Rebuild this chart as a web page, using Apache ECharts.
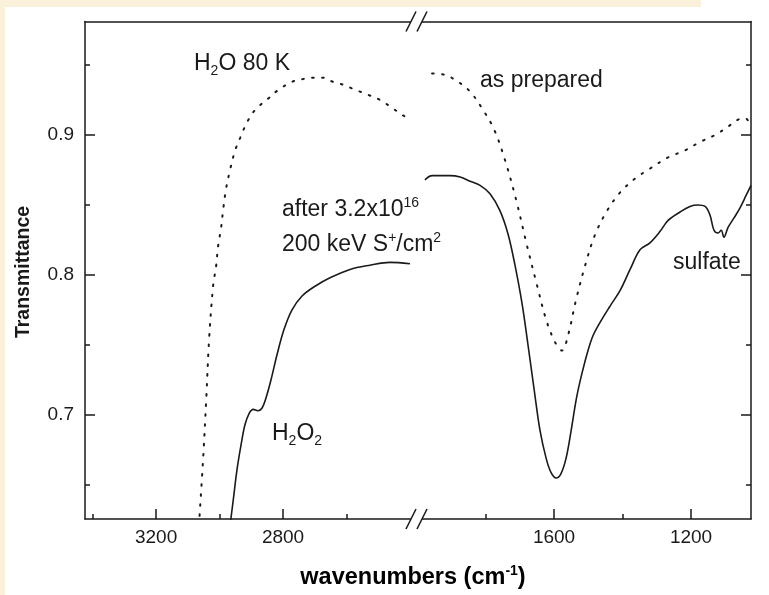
<!DOCTYPE html>
<html>
<head>
<meta charset="utf-8">
<script src="https://cdn.jsdelivr.net/npm/echarts@6/dist/echarts.min.js"></script>
<style>
  html, body { margin: 0; padding: 0; background: #fff; }
  #chart { width: 769px; height: 595px; }
</style>
</head>
<body>
<div id="chart"></div>
<script>
// IR transmittance of H2O ice at 80 K, before and after S+ irradiation.
// The wavenumber axis is broken: a high range (O-H stretch) and a low range.

// "as prepared" spectrum, high-wavenumber window
const preparedHighWn = [3065, 3052, 3042, 3033, 3020, 3011, 3005, 2995, 2989, 2980, 2967, 2951, 2935, 2920, 2901, 2879, 2847, 2816, 2772, 2737, 2706, 2674, 2643, 2611, 2580, 2535, 2494, 2454, 2422, 2400];
const preparedHighT  = [0.621, 0.668, 0.711, 0.754, 0.793, 0.806, 0.820, 0.834, 0.846, 0.861, 0.875, 0.889, 0.898, 0.906, 0.914, 0.920, 0.926, 0.932, 0.938, 0.940, 0.941, 0.941, 0.938, 0.936, 0.933, 0.929, 0.925, 0.919, 0.914, 0.912];

// "as prepared" spectrum, low-wavenumber window
const preparedLowWn = [1956, 1918, 1880, 1845, 1810, 1775, 1743, 1711, 1679, 1650, 1623, 1597, 1577, 1559, 1536, 1509, 1480, 1445, 1407, 1363, 1320, 1267, 1218, 1174, 1130, 1092, 1063, 1042, 1028];
const preparedLowT  = [0.944, 0.943, 0.938, 0.931, 0.919, 0.904, 0.882, 0.854, 0.821, 0.793, 0.768, 0.752, 0.746, 0.757, 0.782, 0.807, 0.829, 0.846, 0.859, 0.869, 0.876, 0.884, 0.889, 0.895, 0.900, 0.906, 0.911, 0.912, 0.908];

// after 3.2x10^16 200 keV S+/cm2, high-wavenumber window
const irradHighWn = [2967, 2957, 2945, 2932, 2920, 2907, 2894, 2879, 2866, 2854, 2838, 2819, 2797, 2772, 2740, 2699, 2652, 2589, 2526, 2463, 2400];
const irradHighT  = [0.621, 0.639, 0.661, 0.679, 0.693, 0.701, 0.704, 0.703, 0.705, 0.712, 0.725, 0.743, 0.761, 0.775, 0.785, 0.792, 0.798, 0.804, 0.807, 0.809, 0.808];

// after irradiation, low-wavenumber window
const irradLowWn = [1977, 1956, 1933, 1904, 1874, 1845, 1816, 1787, 1758, 1734, 1714, 1693, 1676, 1658, 1641, 1623, 1609, 1594, 1580, 1565, 1550, 1533, 1512, 1489, 1466, 1436, 1407, 1378, 1349, 1320, 1291, 1267, 1232, 1203, 1180, 1159, 1145, 1133, 1121, 1112, 1104, 1092, 1074, 1057, 1039, 1025];
const irradLowT  = [0.868, 0.871, 0.871, 0.871, 0.870, 0.867, 0.864, 0.858, 0.846, 0.829, 0.807, 0.779, 0.750, 0.718, 0.689, 0.669, 0.659, 0.655, 0.658, 0.669, 0.689, 0.714, 0.736, 0.755, 0.766, 0.778, 0.789, 0.804, 0.818, 0.823, 0.831, 0.839, 0.845, 0.849, 0.850, 0.849, 0.843, 0.832, 0.830, 0.832, 0.827, 0.834, 0.841, 0.848, 0.857, 0.864];

// Axis ranges and ticks
const highRange = [2381, 3424];
const lowRange = [1025, 2003];
const yRange = [0.6257, 0.9811];
const highMajor = [3200, 2800];
const highMinor = [3400, 3000, 2600];
const lowMajor = [1600, 1200];
const lowMinor = [1800, 1400];
const yMajor = [0.7, 0.8, 0.9];
const yMinor = [0.65, 0.75, 0.85, 0.95];

const zip = (a, b) => a.map((v, i) => [v, b[i]]);

const FONT = '"Liberation Sans", Arial, Helvetica, sans-serif';
const INK = '#1a1a1a';
const AXIS_LINE = { show: true, lineStyle: { color: INK, width: 1.5 } };
const NO_LINE = { show: false };

function tickAxis(values, len) {
  return { show: true, inside: true, length: len, customValues: values, lineStyle: { color: INK, width: 1.5 } };
}

function xAxes(gridIndex, range, major, minor) {
  return [
    {
      type: 'value', gridIndex, position: 'bottom', inverse: true,
      min: range[0], max: range[1],
      axisLine: AXIS_LINE,
      axisTick: tickAxis(major, 10),
      axisLabel: { show: true, customValues: major, formatter: v => String(v), fontFamily: FONT, fontSize: 19, color: INK, margin: 9 },
      splitLine: { show: false }
    },
    {
      type: 'value', gridIndex, position: 'bottom', inverse: true,
      min: range[0], max: range[1],
      axisLine: NO_LINE,
      axisTick: tickAxis(minor, 5),
      axisLabel: { show: false },
      splitLine: { show: false }
    },
    {
      type: 'value', gridIndex, position: 'top', inverse: true,
      min: range[0], max: range[1],
      axisLine: AXIS_LINE,
      axisTick: { show: false },
      axisLabel: { show: false },
      splitLine: { show: false }
    }
  ];
}

function yAxes(gridIndex, position, withLabels) {
  return [
    {
      type: 'value', gridIndex, position,
      min: yRange[0], max: yRange[1],
      axisLine: AXIS_LINE,
      axisTick: tickAxis(yMajor, 10),
      axisLabel: withLabels
        ? { show: true, customValues: yMajor, formatter: v => v.toFixed(1), fontFamily: FONT, fontSize: 19, color: INK, margin: 11 }
        : { show: false },
      splitLine: { show: false }
    },
    {
      type: 'value', gridIndex, position,
      min: yRange[0], max: yRange[1],
      axisLine: NO_LINE,
      axisTick: tickAxis(yMinor, 5),
      axisLabel: { show: false },
      splitLine: { show: false }
    }
  ];
}

const dotted = { color: INK, width: 2, type: [1.6, 8.4], cap: 'round' };
const solid = { color: INK, width: 1.6 };

function spectrum(data, xAxisIndex, yAxisIndex, lineStyle) {
  return {
    type: 'line', data, xAxisIndex, yAxisIndex,
    showSymbol: false, smooth: 0.35, clip: true,
    lineStyle, animation: false, silent: true
  };
}

// break marks on the top and bottom axis lines
function breakMark(y) {
  const slashA = [411, y];
  const slashB = [422, y];
  return [
    { type: 'polygon', z: 100, shape: { points: [[slashA[0] - 5, y + 10], [slashA[0] + 5, y - 10], [slashB[0] + 5, y - 10], [slashB[0] - 5, y + 10]] }, style: { fill: '#fff' } },
    { type: 'line', z: 101, shape: { x1: slashA[0] - 5, y1: y + 10, x2: slashA[0] + 5, y2: y - 10 }, style: { stroke: INK, lineWidth: 1.6 } },
    { type: 'line', z: 101, shape: { x1: slashB[0] - 5, y1: y + 10, x2: slashB[0] + 5, y2: y - 10 }, style: { stroke: INK, lineWidth: 1.6 } }
  ];
}

const richBase = {
  n: { fontFamily: FONT, fontSize: 23, lineHeight: 28, color: INK, verticalAlign: 'middle' },
  sub: { fontFamily: FONT, fontSize: 14, lineHeight: 14, color: INK, verticalAlign: 'bottom' },
  sup: { fontFamily: FONT, fontSize: 14, lineHeight: 14, color: INK, verticalAlign: 'top' }
};

function note(x, y, text) {
  return {
    type: 'text', z: 50, x, y,
    style: { text, rich: richBase, fill: INK, textAlign: 'left', textVerticalAlign: 'middle', font: '23px ' + FONT }
  };
}

const chart = echarts.init(document.getElementById('chart'), null, { renderer: 'canvas' });

chart.setOption({
  backgroundColor: '#fff',
  animation: false,
  grid: [
    { left: 85, top: 21.5, width: 331, height: 497.5 },
    { left: 416, top: 21.5, width: 335, height: 497.5 }
  ],
  xAxis: [
    ...xAxes(0, highRange, highMajor, highMinor),
    ...xAxes(1, lowRange, lowMajor, lowMinor)
  ],
  yAxis: [
    ...yAxes(0, 'left', true),
    ...yAxes(1, 'right', false)
  ],
  series: [
    spectrum(zip(preparedHighWn, preparedHighT), 0, 0, dotted),
    spectrum(zip(irradHighWn, irradHighT), 0, 0, solid),
    spectrum(zip(preparedLowWn, preparedLowT), 3, 2, dotted),
    spectrum(zip(irradLowWn, irradLowT), 3, 2, solid)
  ],
  graphic: [
    // cream page margins
    { type: 'rect', z: -1, shape: { x: 0, y: 0, width: 701, height: 7 }, style: { fill: '#fbf0da' } },
    { type: 'rect', z: -1, shape: { x: 0, y: 0, width: 5, height: 595 }, style: { fill: '#fbf0da' } },
    ...breakMark(21.5),
    ...breakMark(519),
    note(194, 64, '{n|H}{sub|2}{n|O 80 K}'),
    note(480, 81, '{n|as prepared}'),
    note(282, 210, '{n|after 3.2x10}{sup|16}'),
    note(282, 245, '{n|200 keV S}{sup|+}{n|/cm}{sup|2}'),
    note(272, 434, '{n|H}{sub|2}{n|O}{sub|2}'),
    note(673, 263, '{n|sulfate}'),
    {
      type: 'text', z: 50, x: 413, y: 578,
      style: {
        text: '{b|wavenumbers (cm}{s|-1}{b|)}',
        rich: {
          b: { fontFamily: FONT, fontWeight: 'bold', fontSize: 23.5, lineHeight: 28, color: INK, verticalAlign: 'middle' },
          s: { fontFamily: FONT, fontWeight: 'bold', fontSize: 14, lineHeight: 14, color: INK, verticalAlign: 'top' }
        },
        textAlign: 'center', textVerticalAlign: 'middle'
      }
    },
    {
      type: 'text', z: 50, x: 24, y: 272, rotation: Math.PI / 2,
      style: {
        text: 'Transmittance', fill: INK,
        font: 'bold 19.5px ' + FONT,
        textAlign: 'center', textVerticalAlign: 'middle'
      }
    }
  ]
});
</script>
</body>
</html>
